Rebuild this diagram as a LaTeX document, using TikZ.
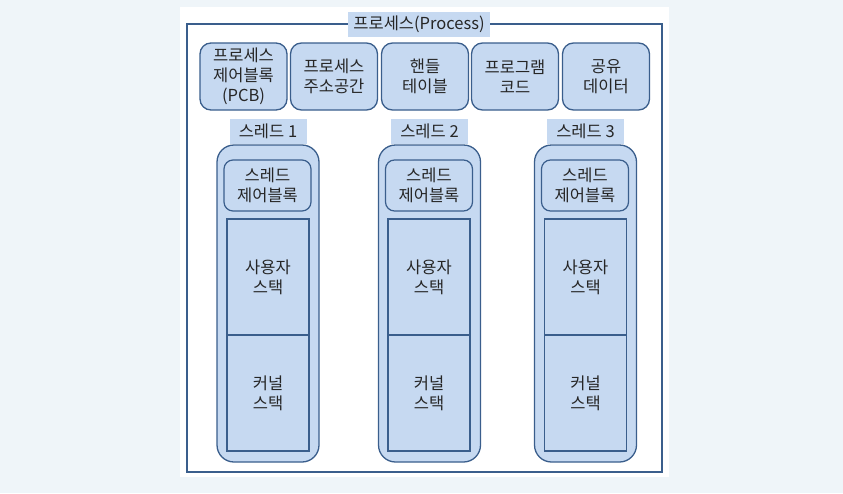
\documentclass[tikz,border=0pt]{standalone}
\usepackage{fontspec}
\newfontfamily\kr{Noto Sans CJK KR}
\usepackage{tikz}
\usetikzlibrary{positioning}
\definecolor{boxfill}{RGB}{198,217,241}
\definecolor{boxline}{RGB}{58,94,140}
\definecolor{pagebg}{RGB}{239,245,249}

\tikzset{
    krtext/.style={font=\kr\fontsize{16.5}{20}\selectfont, text=black!85, align=center, inner sep=1pt},
    part/.style={krtext, draw=boxline, fill=boxfill, line width=1.3pt, rounded corners=11pt, minimum width=87pt, minimum height=67pt},
    tag/.style={krtext, fill=boxfill, minimum height=25pt},
    thread/.style={draw=boxline, fill=boxfill, line width=1.3pt, rounded corners=17pt, minimum width=102pt, minimum height=317pt},
    tcb/.style={krtext, draw=boxline, fill=boxfill, line width=1.2pt, rounded corners=9pt, minimum width=87pt, minimum height=51pt},
    stack/.style={krtext, draw=boxline, fill=boxfill, line width=1.2pt, minimum width=82pt, minimum height=116pt}
}

\begin{document}
\begin{tikzpicture}[x=1pt,y=-1pt]
    \useasboundingbox[fill=pagebg] (0,0) rectangle (843,493);
    \fill[white] (180,7) rectangle (669,477);
    \draw[boxline, line width=1.3pt] (187,24) rectangle (662,472);
    \node[tag, minimum width=142pt] (proc) at (419,24.5) {프로세스(Process)};

    % process resources
    \node[part] (pcb) at (243.5,76.5) {프로세스\\제어블록\\(PCB)};
    \node[part] (addr) at (334,76.5) {프로세스\\주소공간};
    \node[part] (handle) at (425,76.5) {핸들\\테이블};
    \node[part] (code) at (515,76.5) {프로그램\\코드};
    \node[part] (data) at (606,76.5) {공유\\데이터};

    % thread 1
    \node[thread] (t1) at (268,303.5) {};
    \node[tag, minimum width=77pt, anchor=south] (t1label) at (t1.north) {스레드 1};
    \node[tcb] (t1tcb) at (267.5,185.5) {스레드\\제어블록};
    \node[stack] (t1user) at (268,277) {사용자\\스택};
    \node[stack, below=0pt of t1user, yshift=1.2pt] (t1kern) {커널\\스택};

    % thread 2
    \node[thread] (t2) at (429.5,303.5) {};
    \node[tag, minimum width=77pt, anchor=south] (t2label) at (t2.north) {스레드 2};
    \node[tcb] (t2tcb) at (429,185.5) {스레드\\제어블록};
    \node[stack] (t2user) at (429,277) {사용자\\스택};
    \node[stack, below=0pt of t2user, yshift=1.2pt] (t2kern) {커널\\스택};

    % thread 3
    \node[thread] (t3) at (585.5,303.5) {};
    \node[tag, minimum width=77pt, anchor=south] (t3label) at (t3.north) {스레드 3};
    \node[tcb] (t3tcb) at (585,185.5) {스레드\\제어블록};
    \node[stack] (t3user) at (585.5,277) {사용자\\스택};
    \node[stack, below=0pt of t3user, yshift=1.2pt] (t3kern) {커널\\스택};
\end{tikzpicture}
\end{document}
